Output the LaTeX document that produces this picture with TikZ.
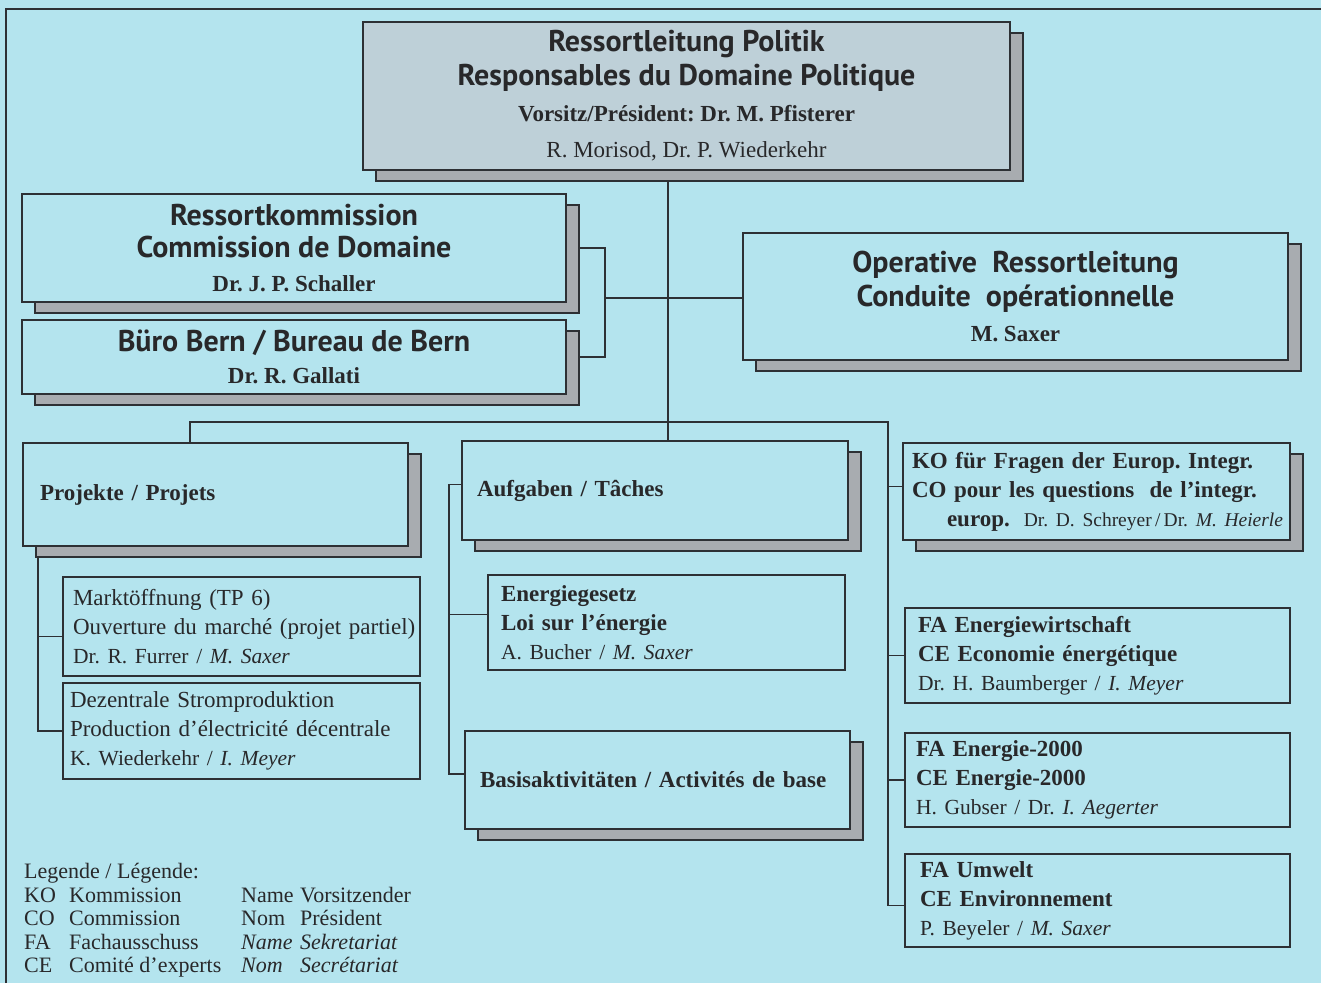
\documentclass[tikz,border=0pt]{standalone}
\usepackage{fontspec}
\setmainfont{Liberation Serif}
\newfontfamily\hsfam{PT Sans}
\usetikzlibrary{shadows,backgrounds}
\definecolor{bgc}{RGB}{180,228,238}
\definecolor{topfill}{RGB}{190,208,216}
\definecolor{shc}{RGB}{168,172,176}
\definecolor{linec}{RGB}{45,48,52}
\definecolor{txt}{RGB}{40,40,42}
\newcommand\hsb{\hsfam\bfseries\fontsize{30}{34}\selectfont}
\newcommand\nm{\fontsize{21.5}{29}\selectfont}
\newcommand\mbx[1]{\mbox{#1}}
\frenchspacing
\begin{document}
\begin{tikzpicture}[x=1pt,y=-1pt,
  every node/.style={text=txt},
  shad/.style={drop shadow={shadow xshift=13pt, shadow yshift=-11pt, fill=shc, draw=linec, line width=1.5pt, opacity=1}},
  headbox/.style={draw=linec, fill=bgc, line width=1.5pt, shad, align=center, inner sep=0pt, font=\fontsize{23}{34}\selectfont},
  thickbox/.style={draw=linec, fill=bgc, line width=2.6pt, align=left, inner ysep=0pt, font=\fontsize{23}{29}\selectfont},
  thinbox/.style={draw=linec, fill=bgc, line width=1.4pt, align=left, inner ysep=0pt, font=\fontsize{23}{29}\selectfont},
  conn/.style={draw=linec, line width=1.5pt}
]
\useasboundingbox (0,0) rectangle (1321,983);
\begin{pgfonlayer}{background}
\fill[bgc] (0,0) rectangle (1321,983);
\end{pgfonlayer}
\draw[linec, line width=2pt] (6,983) -- (6,9) -- (1321,9);

% head boxes
\node[headbox, fill=topfill, line width=1.8pt, minimum width=647pt, minimum height=148pt] (top) at (686.5,96)
 {{\hsb Ressortleitung Politik}\\
  {\hsb Responsables du Domaine Politique}\\[2pt]
  \textbf{Vorsitz/Président: Dr. M. Pfisterer}\\[2pt]
  R. Morisod, Dr. P. Wiederkehr};
\node[headbox, minimum width=544pt, minimum height=108pt] (rk) at (294,248)
 {{\hsb Ressortkommission}\\[-2pt]
  {\hsb Commission de Domaine}\\
  \textbf{Dr. J. P. Schaller}};
\node[headbox, minimum width=544pt, minimum height=74pt] (bb) at (294,357)
 {{\hsb Büro Bern / Bureau de Bern}\\[-2.5pt]
  \textbf{Dr. R. Gallati}};
\node[headbox, minimum width=545pt, minimum height=127pt] (oper) at (1015.5,296.5)
 {{\hsb Operative\ \ Ressortleitung}\\
  {\hsb Conduite\ \ opérationnelle}\\[0.5pt]
  \textbf{M. Saxer}};

% left column
\node[thickbox, shad, minimum width=385pt, minimum height=103pt, inner xsep=17pt, text width=351pt] (proj) at (215.5,494.5)
 {\textbf{Projekte / Projets}};
\node[thinbox, minimum width=357pt, minimum height=99pt, inner xsep=10pt, text width=337pt] (markt) at (241.5,626.5)
 {\mbx{Marktöffnung (TP 6)}\\
  \mbx{Ouverture du marché (projet partiel)}\\
  \mbx{\nm Dr. R. Furrer / \textit{M. Saxer}}};
\node[thinbox, minimum width=357pt, minimum height=96pt, inner xsep=7pt, text width=343pt] (dez) at (241.5,731)
 {\mbx{Dezentrale Stromproduktion}\\
  \mbx{Production d’électricité décentrale}\\
  \mbx{\nm K. Wiederkehr / \textit{I. Meyer}}};

% middle column
\node[thickbox, shad, minimum width=386pt, minimum height=99pt, inner xsep=15pt, text width=356pt] (aufg) at (655,490.5)
 {\textbf{Aufgaben / Tâches}};
\node[thinbox, minimum width=357pt, minimum height=95pt, inner xsep=13pt, text width=331pt] (energ) at (666.5,622.5)
 {\mbx{\textbf{Energiegesetz}}\\
  \mbx{\textbf{Loi sur l’énergie}}\\
  \mbx{\nm A. Bucher / \textit{M. Saxer}}};
\node[thickbox, shad, minimum width=385pt, minimum height=98pt, inner xsep=15pt, text width=355pt] (basis) at (657.5,780)
 {\textbf{Basisaktivitäten / Activités de base}};

% right column
\node[thickbox, shad, minimum width=387pt, minimum height=97pt, inner xsep=9pt, text width=369pt] (ko) at (1096.5,491.5)
 {\mbx{\textbf{KO für Fragen der Europ. Integr.}}\\
  \mbx{\textbf{CO pour les questions\ \ de l’integr.}}\\
  \mbx{\hspace*{35pt}\textbf{europ.}\hspace{14pt}{\fontsize{19.5}{29}\selectfont Dr. D. Schreyer\,/\,Dr. \textit{M. Heierle}}}};
\node[thickbox, minimum width=385pt, minimum height=95pt, inner xsep=13pt, text width=359pt] (few) at (1097.5,655.5)
 {\mbx{\textbf{FA Energiewirtschaft}}\\
  \mbx{\textbf{CE Economie énergétique}}\\
  \mbx{\nm Dr. H. Baumberger / \textit{I. Meyer}}};
\node[thickbox, minimum width=385pt, minimum height=94pt, inner xsep=11pt, text width=363pt] (fe2) at (1097.5,780)
 {\mbx{\textbf{FA Energie-2000}}\\
  \mbx{\textbf{CE Energie-2000}}\\
  \mbx{\nm H. Gubser / Dr. \textit{I. Aegerter}}};
\node[thickbox, minimum width=385pt, minimum height=93pt, inner xsep=15pt, text width=355pt] (umw) at (1097.5,900.5)
 {\mbx{\textbf{FA Umwelt}}\\
  \mbx{\textbf{CE Environnement}}\\
  \mbx{\nm P. Beyeler / \textit{M. Saxer}}};

% legend
\node[anchor=north west, inner sep=0pt, font=\fontsize{22}{23.5}\selectfont] (leg) at (24,862)
 {\begin{tabular}{@{}p{45pt}@{}p{172pt}@{}p{59pt}@{}l@{}}
  \multicolumn{4}{@{}l@{}}{Legende / Légende:}\\
  KO & Kommission & Name & Vorsitzender\\
  CO & Commission & Nom & Président\\
  FA & Fachausschuss & \textit{Name} & \textit{Sekretariat}\\
  CE & Comité d’experts & \textit{Nom} & \textit{Secrétariat}
  \end{tabular}};

% junction coordinates
\coordinate (jT) at (668,298);
\coordinate (jB) at (605,298);
\coordinate (jL) at (190,422);
\coordinate (jR) at (888,422);
\coordinate (jP) at (38,0);
\coordinate (jA) at (449,0);
\coordinate (mt) at ([yshift=-10pt]markt.west);
\coordinate (at) at ([yshift=6pt]aufg.west);
\coordinate (et) at ([yshift=8pt]energ.west);
\coordinate (bt) at ([yshift=6pt]basis.west);
\coordinate (kt) at ([yshift=5pt]ko.west);
\coordinate (ut) at ([yshift=-5pt]umw.west);

\begin{pgfonlayer}{background}
\draw[conn] (top.south -| jT) -- (aufg.north -| jT);
\draw[conn] (jB) -- (oper.west |- jB);
\draw[conn] (rk.east) -| (jB) |- (bb.east);
\draw[conn] (proj.north -| jL) |- (jR) |- (ut);
\draw[conn] (kt -| jR) -- (kt);
\draw[conn] (few.west -| jR) -- (few.west);
\draw[conn] (fe2.west -| jR) -- (fe2.west);
\draw[conn] (proj.south -| jP) |- (dez.west);
\draw[conn] (mt -| jP) -- (mt);
\draw[conn] (at) -| (jA |- bt) -- (bt);
\draw[conn] (et -| jA) -- (et);
\end{pgfonlayer}
\end{tikzpicture}
\end{document}
